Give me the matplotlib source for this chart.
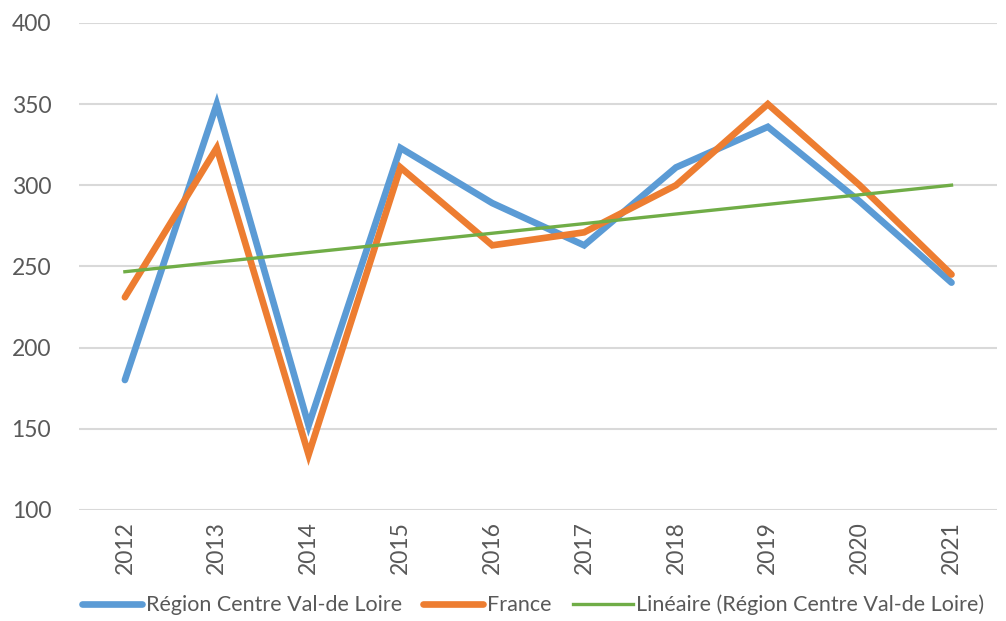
import numpy as np
import matplotlib
matplotlib.use("Agg")
import matplotlib.pyplot as plt

# data
years = ["2012", "2013", "2014", "2015", "2016", "2017", "2018", "2019", "2020", "2021"]
centre = [180, 350, 152, 323, 289, 263, 311, 336, 290, 240]
france = [231, 323, 134, 311, 263, 271, 300, 350, 300, 245]

plt.rcParams['font.family'] = ['Lato', 'DejaVu Sans']
text_col = "#595959"

fig = plt.figure(figsize=(10.06, 6.21), dpi=100)
ax = fig.add_axes([0.0785, 0.179, 0.913, 0.784])

x = np.arange(len(years))
# linear trend of the regional series (Excel "Linéaire")
slope, icpt = np.polyfit(x, centre, 1)
trend = slope * x + icpt

ax.plot(x, centre, color="#5B9BD5", lw=4.8, solid_capstyle="round", solid_joinstyle="miter",
        label="Région Centre Val-de Loire", zorder=3)
ax.plot(x, france, color="#ED7D31", lw=4.8, solid_capstyle="round", solid_joinstyle="miter",
        label="France", zorder=4)
ax.plot(x, trend, color="#70AD47", lw=2.4, label="Linéaire (Région Centre Val-de Loire)", zorder=5)

ax.set_xlim(-0.5, len(years) - 0.5)
ax.set_ylim(100, 400)
ax.set_yticks(range(100, 401, 50))
ax.set_xticks(x)
ax.set_xticklabels(years, rotation=90)
ax.tick_params(axis="both", length=0, labelsize=16.5, colors=text_col)
ax.tick_params(axis="y", pad=20)
ax.tick_params(axis="x", pad=8)
ax.yaxis.grid(True, color="#D9D9D9", lw=1.5)
ax.set_axisbelow(True)
for s in ax.spines.values():
    s.set_visible(False)

leg = fig.legend(loc="lower center", bbox_to_anchor=(0.53, -0.022), ncol=3, frameon=False,
                 fontsize=15.5, handlelength=2.8, handletextpad=0.15, columnspacing=1.0)
for t in leg.get_texts():
    t.set_color(text_col)

fig.savefig("out.png", dpi=100)
